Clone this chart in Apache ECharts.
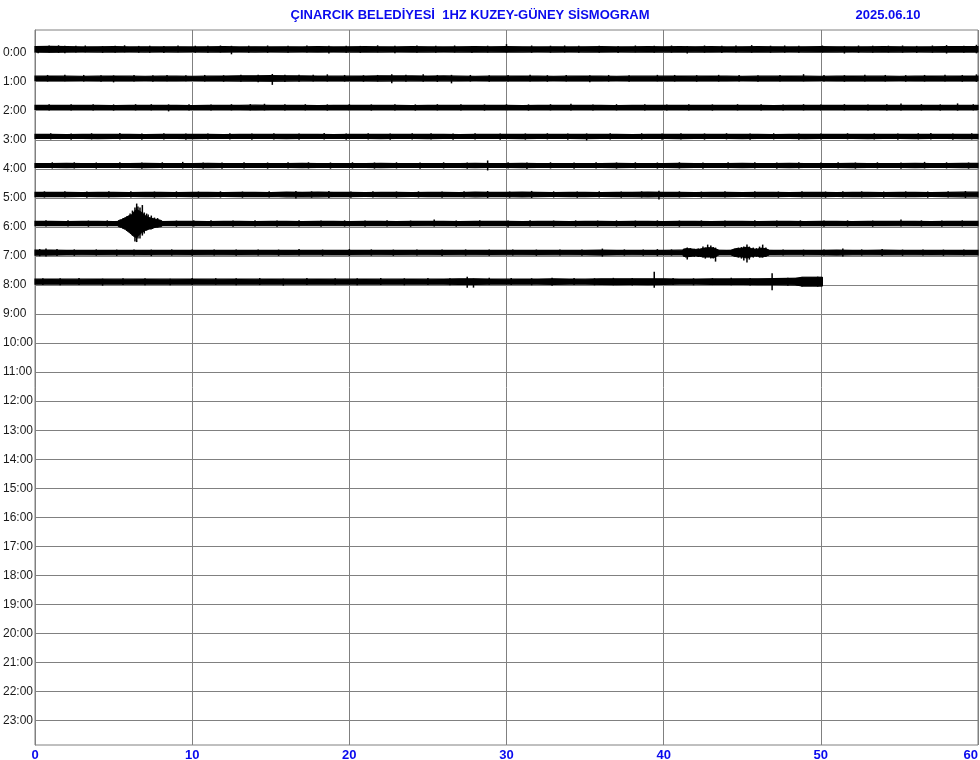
<!DOCTYPE html>
<html>
<head>
<meta charset="utf-8">
<script src="https://cdn.jsdelivr.net/npm/echarts@6/dist/echarts.min.js"></script>
<style>html,body{margin:0;padding:0;background:#fff;}#c{width:980px;height:760px;}</style>
</head>
<body>
<div id="c"></div>
<script>
// ---------- DATA ----------
const titleText = 'ÇINARCIK BELEDİYESİ  1HZ KUZEY-GÜNEY SİSMOGRAM';
const dateText = '2025.06.10';
const hourLabels = ['0:00','1:00','2:00','3:00','4:00','5:00','6:00','7:00','8:00','9:00','10:00','11:00',
  '12:00','13:00','14:00','15:00','16:00','17:00','18:00','19:00','20:00','21:00','22:00','23:00'];
const minuteTicks = [0, 10, 20, 30, 40, 50, 60];

// background noise half-width per minute (amplitude units)
const noise0 = [2.6,2.9,2.6,2.4,2.5,2.6,2.4,2.5,2.4,2.5,2.4,2.5,2.6,2.4,2.5,2.4,2.5,2.4,2.6,2.4,
  2.5,2.6,2.5,2.4,2.6,2.5,2.4,2.5,2.6,2.5,2.6,2.5,2.4,2.5,2.4,2.5,2.6,2.4,2.5,2.6,
  2.5,2.6,2.5,2.6,2.4,2.5,2.6,2.5,2.4,2.5,2.6,2.5,2.4,2.5,2.6,2.5,2.4,2.5,2.6,2.6];
const noise1 = [2.2,2.3,2.2,2.1,2.2,2.3,2.2,2.1,2.2,2.2,2.1,2.2,2.3,2.5,2.6,2.7,2.5,2.4,2.3,2.2,
  2.2,2.3,2.5,2.4,2.4,2.3,2.4,2.2,2.1,2.2,2.2,2.3,2.2,2.1,2.2,2.3,2.2,2.1,2.2,2.2,
  2.2,2.3,2.2,2.3,2.2,2.1,2.2,2.2,2.3,2.2,2.1,2.2,2.3,2.2,2.2,2.1,2.2,2.3,2.2,2.3];
const noise2 = [2.0,2.1,2.0,2.1,2.0,1.9,2.0,2.1,2.0,2.0,1.9,2.0,2.1,2.0,2.2,2.1,2.0,2.0,1.9,2.0,
  2.0,2.1,2.0,2.0,1.9,2.0,2.1,2.0,2.0,2.1,2.0,1.9,2.0,2.0,2.1,2.0,2.0,1.9,2.0,2.1,
  2.0,2.0,2.1,2.0,2.0,2.1,2.0,1.9,2.0,2.0,2.1,2.0,2.0,2.1,2.0,2.1,2.0,2.0,2.1,2.0];
const noise3 = [2.0,2.0,1.9,2.0,2.1,2.0,2.0,1.9,2.0,2.0,2.1,2.0,1.9,2.0,2.0,2.0,2.1,2.0,2.0,1.9,
  2.0,2.0,2.1,2.0,2.0,2.1,2.0,1.9,2.0,2.0,2.0,2.1,2.0,2.0,2.0,2.1,2.0,2.0,1.9,2.0,
  2.0,2.1,2.0,2.0,2.0,2.1,2.0,1.9,2.0,2.1,2.0,2.0,2.0,2.1,2.0,2.0,2.1,2.0,2.0,2.1];
const noise4 = [2.0,2.0,2.1,2.0,1.9,2.0,2.0,2.1,2.0,2.0,2.0,2.1,2.0,1.9,2.0,2.0,2.0,2.1,2.0,2.0,
  2.0,2.0,2.1,2.0,2.0,1.9,2.0,2.0,2.2,2.0,2.0,2.1,2.0,2.0,1.9,2.0,2.0,2.1,2.0,2.0,
  2.0,2.1,2.0,2.0,2.0,2.1,2.0,2.0,2.1,2.0,2.0,2.0,2.1,2.0,2.0,2.0,2.1,2.0,2.0,2.1];
const noise5 = [2.1,2.2,2.1,2.0,2.1,2.1,2.0,2.1,2.1,2.0,2.1,2.1,2.0,2.1,2.1,2.0,2.3,2.1,2.3,2.1,
  2.1,2.0,2.1,2.1,2.0,2.1,2.1,2.0,2.3,2.1,2.1,2.4,2.1,2.0,2.1,2.1,2.0,2.1,2.1,2.4,
  2.2,2.1,2.0,2.1,2.1,2.0,2.1,2.1,2.0,2.1,2.1,2.0,2.1,2.1,2.0,2.1,2.1,2.0,2.2,2.3];
const noise6 = [2.1,2.1,2.0,2.1,2.1,2.0,2.1,2.1,2.0,2.1,2.1,2.0,2.1,2.1,2.0,2.1,2.1,2.0,2.1,2.1,
  2.0,2.1,2.1,2.0,2.1,2.2,2.1,2.0,2.1,2.1,2.1,2.0,2.1,2.1,2.0,2.1,2.1,2.0,2.1,2.1,
  2.0,2.1,2.1,2.0,2.1,2.1,2.0,2.1,2.1,2.0,2.1,2.1,2.0,2.1,2.1,2.2,2.1,2.0,2.1,2.1];
const noise7 = [2.6,2.5,2.3,2.2,2.3,2.2,2.2,2.3,2.2,2.2,2.3,2.2,2.2,2.3,2.2,2.2,2.3,2.2,2.2,2.3,
  2.3,2.2,2.2,2.3,2.2,2.2,2.3,2.2,2.2,2.3,2.2,2.2,2.3,2.2,2.2,2.3,2.5,2.3,2.2,2.3,
  2.3,2.4,2.4,2.4,2.3,2.4,2.4,2.3,2.2,2.2,2.3,2.5,2.2,2.2,2.4,2.2,2.2,2.3,2.2,2.3];
const noise8 = [2.5,2.6,2.5,2.5,2.6,2.5,2.5,2.6,2.5,2.5,2.6,2.5,2.5,2.6,2.5,2.6,2.5,2.5,2.6,2.5,
  2.5,2.6,2.5,2.5,2.6,2.5,2.6,2.8,2.8,2.6,2.5,2.6,2.6,2.8,2.6,2.5,2.8,2.9,2.8,2.9,
  2.8,2.6,2.6,2.7,2.7,2.8,2.9,3.0,3.2,3.6,3.8];
const rowEnd = [60, 60, 60, 60, 60, 60, 60, 60, 50.1];

// thin spikes: [minute, up, down]
const spikes0 = [[0.2,3,4],[0.9,3.8,3.2],[1.5,4,3.5],[1.9,3.5,4],[2.6,3.6,3.2],[3.2,3.8,3],[4.3,3.2,3.6],[5.1,3.5,3.5],[5.7,4,3],
  [6.6,3.4,3.4],[7.3,3.6,3.5],[8.2,3.4,3.6],[9.1,3.8,3],[10.2,3.6,3.4],[11,3.5,3.5],[11.8,3.8,3.2],[12.5,3.5,5],[13.6,3.6,3.4],
  [14.8,3.8,3.5],[16.1,3.5,3.5],[17.3,3.8,3.2],[18.7,3.5,4.2],[19.8,3.6,3.4],[20.7,3.4,3.6],[21.8,4,3],[22.9,3.5,4],
  [24.3,3.8,3.5],[25.5,3.5,3.4],[26.7,3.8,3.2],[27.8,3.4,3.6],[28.8,3.6,3.2],[30,5.2,3.5],[31.6,3.8,3.5],[32.8,3.6,3.4],
  [33.7,3.8,3.2],[34.6,3.5,3.5],[35.9,3.6,3.4],[37.1,3.4,3.6],[38.2,3.8,3],[39.4,3.5,3.5],[40.5,3.8,3.4],[41.5,3.2,4.2],
  [42.6,3.8,3.4],[43.7,3.6,3.6],[44.6,3.8,3.2],[45.6,4.2,3.5],[46.8,3.6,3.4],[47.7,3.8,3.4],[48.6,3.5,3.5],[50.1,3.8,3.2],
  [51.5,3.4,4.2],[52.4,3.8,3.4],[53.3,3.6,3.4],[54.3,3.6,3.2],[55.2,3.8,3.4],[56.1,3.4,3.6],[57.1,3.8,3.4],[58,4.2,4.2],[59.1,3.6,3.4],[59.9,4.5,4]];
const spikes1 = [[0.8,3.4,3.2],[1.9,3.5,3],[3.1,3.4,3.2],[4.2,3.2,3.4],[5.0,3,4],[6.3,3.4,3.2],[7.5,3.2,3.4],[8.4,3.4,3],
  [9.6,3.2,3],[10.8,3.4,3.2],[12.0,3.2,3.4],[13.1,3.5,3.5],[14.2,3.5,4],[15.1,4.4,6.5],[15.9,3.6,3.6],[16.8,3.5,3.5],
  [17.7,3.6,3.2],[18.6,4,3.2],[19.7,3.4,3.2],[20.9,3.2,3.4],[21.8,3.4,3.2],[22.7,4,5],[23.6,3.6,3.4],[24.7,4,3.5],
  [25.6,3.4,3.6],[26.5,3.5,5],[27.7,3.4,3.2],[28.9,3.2,3.4],[30.1,3.4,3.2],[31.5,3.5,3.2],[32.6,3.2,3.4],[33.8,3.4,3.2],
  [35.3,3,4],[36.5,3.4,3.2],[37.8,3.2,3.4],[39.6,3.5,3],[40.7,3.4,3.2],[42.1,3.2,3.4],[43.5,3.5,3.2],[44.8,3.4,3.2],
  [46.0,3.2,3.4],[47.4,3.4,3.2],[48.9,4.2,3],[50.2,3.4,3.2],[51.5,3.2,3.4],[52.8,3.5,3.2],[54.1,3.4,3.2],[55.4,3.2,3.4],
  [56.6,3.4,3.2],[57.9,3.5,3.2],[59.0,3.4,3.4],[59.9,4,3.5]];
const spikes2 = [[0.9,3.2,3],[2.3,3.2,3],[3.7,3.2,3],[5.0,3,3.2],[6.4,3.2,3],[7.4,3.2,3],[8.5,3,4],[9.8,3.2,3],[11.2,3,3.2],
  [12.5,3.2,3],[13.7,3.3,3],[14.6,3.6,3],[15.9,3.2,3],[17.2,3.2,3],[18.6,3,3.2],[20.0,3.2,3],[21.4,3,3.2],[22.9,3.2,3],
  [24.2,3,3.2],[25.6,3.2,3],[27.1,3.2,3],[28.6,3,3.2],[30.0,3.2,3],[31.4,3,3.2],[32.8,3.2,3],[34.1,3.6,3],[35.5,3,3.2],
  [37.0,3.2,3],[38.8,3.2,3],[40.2,3,3.2],[41.6,3.2,3],[43.1,3,3.2],[44.7,3.2,3],[46.2,3.2,3],[47.6,3,3.2],[48.9,3.2,3],
  [50,3,3.2],[51.5,3.2,3],[53.0,3,3.2],[54.2,3.2,3],[55.1,4,3],[56.4,3.2,3],[57.6,3,3.2],[58.7,4,3.2],[59.7,3.2,3]];
const spikes3 = [[1.0,3.2,3],[2.3,3,3.2],[3.6,3.2,3],[5.4,3.5,3],[6.8,3,3.2],[8.2,3.2,3],[9.6,3,3.2],[11,3,3],[12.4,3.2,3],
  [13.8,3,3.2],[15.2,3.2,3],[16.8,3,3.2],[18.4,3.5,3],[19.8,3,3.2],[21.2,3.2,3],[22.6,3,3.2],[24.0,3.2,3],[25.2,3.2,3],
  [26.6,3,3.2],[28.0,3.2,3],[29.6,3,3.2],[31.2,3,3.2],[32.6,3.2,3],[33.9,3,3.2],[35.1,3,4],[36.6,3.2,3],[38.6,3.2,3],
  [39.9,3,3.2],[41.1,3.2,3],[42.6,3,3.2],[44.0,3.2,3],[45.5,3,3.2],[47.0,3.2,3],[48.6,3,3.2],[50,3,3],[51.7,3.2,3],
  [53.4,3.2,3],[54.9,3,3.2],[56.2,3.2,3],[57,3.5,3],[58.4,3,3.2],[59.6,3.2,3]];
const spikes4 = [[1.1,3.2,3],[2.5,3.2,3],[3.9,3,3.2],[5.4,3.2,3],[6.8,3,3.2],[8.1,3.2,3],[9.4,3.6,3],[10.7,3,3.2],[11.9,3,3.2],
  [13.3,3.2,3],[14.8,3,3.2],[16.1,3.2,3],[17.4,3.2,3],[18.8,3,3.2],[20.2,3.2,3],[21.6,3,3.2],[23.0,3.2,3],[24.5,3,3.2],
  [26.0,3.2,3],[27.5,3,3.2],[28.8,5,5],[30.1,3.2,3],[31.3,3,3.6],[32.8,3.2,3],[34.3,3,3.2],[35.7,3.2,3],[37.0,3,3.2],
  [38.2,3.2,3],[39.6,3,3.2],[41.0,3.2,3],[42.5,3,3.2],[44.1,3.2,3],[45.8,3.2,3],[47.2,3,3.2],[48.6,3.2,3],[50.0,3,3.2],
  [51.1,3.2,3],[52.2,3,3.2],[53.6,3.2,3],[55.1,3,3.2],[56.6,3.6,3],[58.0,3.2,3],[59.4,3,3.2]];
const spikes5 = [[0.6,3.2,3],[1.9,3.2,3],[3.3,3,3.2],[4.7,3.2,3],[6.1,3.2,3],[7.6,3,3.2],[9.0,3.2,3],[10.4,3,3.2],[11.8,3.2,3],
  [13.2,3,3.2],[14.9,3.2,3],[16.6,3.6,4],[17.6,3.2,3.2],[18.7,3.5,3.5],[20.1,3,3.2],[21.5,3.2,3],[23.0,3,3.2],[24.4,3.2,3],
  [25.9,3,3.2],[27.3,3.2,3],[28.8,3.5,3.5],[30.2,3,3.2],[31.6,3.6,3.5],[33.0,3.2,3],[34.5,3,3.2],[35.9,3.2,3],[37.3,3,3.2],
  [38.6,3.2,3],[39.7,3.8,5],[41.0,3.2,3],[42.4,3,3.2],[43.9,3.2,3],[45.8,3.2,3],[47.3,3,3.2],[48.8,3.2,3],[50.3,3,3.2],
  [51.4,3.2,3],[52.6,3.2,3],[54.0,3,3.2],[55.4,3.2,3],[56.8,3,3.2],[58.1,3.2,3],[59.2,3.5,3.5]];
const spikes6 = [[0.7,3.2,3],[2.1,3.2,3],[3.4,3,3.2],[4.6,3.2,3],[9.0,3,3.2],[10.1,3.2,3],[11.2,3.2,3],[12.6,3,3.2],[14.0,3.2,3],
  [15.4,3,3.2],[16.8,3.2,3],[18.2,3,3.2],[19.7,3.2,3],[21.0,3,3.2],[22.4,3.2,3],[23.9,3,3.2],[25.4,4,3],[26.8,3,3.2],
  [28.3,3.2,3],[30.1,3,4],[31.5,3.2,3],[33.0,3,3.2],[34.4,3.2,3],[35.8,3,3.2],[37.0,3.2,3],[38.2,3,3.5],[39.6,3.2,3],
  [41.0,3,3.2],[42.4,3.2,3],[43.9,3,3.2],[45.8,3.2,3],[47.2,3,3.2],[48.7,3.2,3],[50.2,3,3.2],[51.7,3.2,3],[53.3,3,3.2],
  [55.1,4,3],[56.4,3.2,3],[57.7,3,3.2],[59.0,3.2,3],
  [5.6,5,5],[5.85,7,7],[6.05,10,9],[6.2,13,12],[6.36,16,18],[6.47,20,18.5],[6.55,17,15],[6.68,16,15],[6.83,18.5,12],[6.95,11,10],
  [7.1,10,7],[7.2,9,6],[7.4,8,5],[7.6,6,4.5],[7.8,5.5,4]];
const spikes7 = [[0.3,3.6,3.6],[0.7,4,4],[1.4,3.6,3.4],[2.5,3.2,3.2],[3.9,3.2,3],[5.2,3,3.2],[6.3,3.2,3],[7.4,3,3.5],
  [8.7,3.2,3],[10.0,3,3.2],[11.4,3.2,3],[12.8,3,3.2],[14.2,3.2,3],[15.5,3,3.2],[16.8,3.5,3],[18.3,3,3.2],[20,3.5,3.5],
  [21.4,3.2,3],[22.8,3,3.2],[24.3,3.2,3],[25.9,3,3.5],[27.4,3.2,3],[28.9,3,3.2],[30.4,3.2,3],[31.9,3,3.2],[33.4,3.2,3],
  [34.8,3,3.2],[36.1,4,4],[37.5,3.2,3],[38.7,3,3.2],[39.6,3.5,3.5],[40.5,3.2,3],
  [41.3,4,4.5],[41.5,5,7],[41.7,4.5,4],[41.95,3.8,4.2],[42.2,4.2,4.5],[42.5,6,5],[42.65,5,6],[42.8,8,4],[43.0,7,6],[43.15,5.5,6],[43.3,5,9],
  [44.5,4,4],[44.75,5,5],[44.95,5.5,6],[45.1,6,8],[45.3,8,10],[45.45,6,7],[45.7,5,5],[45.9,4.5,4.2],[46.1,6,5],[46.3,8,5],[46.5,5,4.5],
  [47.6,3.2,3],[48.9,3,3.2],[50.2,3.2,3],[51.4,4,4],[52.6,3.2,3],[53.9,3.5,3.5],[55.2,3,3.2],[56.5,3.2,3],[57.8,3,3.2],[59.1,3.2,3]];
const spikes8 = [[0.5,3.5,3.4],[1.6,3.4,3.6],[2.8,3.6,3.4],[4.3,3,4],[5.6,3.5,3.4],[7.0,3.4,3.6],[8.6,3,3.5],[10.0,3.6,3.4],
  [11.5,3.5,3],[12.8,3.4,3.6],[14.3,3.6,3.4],[15.8,3,4],[17.3,3.6,3.4],[19.1,3.5,3],[20.5,3.4,3.6],[22.0,3.6,3.4],
  [23.5,3.4,3.6],[25.0,3.6,3.4],[26.4,3.4,3.6],[27.5,5,6],[27.9,3,6],[28.9,4,3],[30.3,3.6,3.4],[31.6,3.4,3.6],
  [32.9,4,4],[34.3,3.6,3.4],[35.6,3.4,3.6],[36.8,3.8,3.6],[38.0,3.6,3.8],[39.4,10,6],[40.6,3.6,3.4],[41.9,3.4,3.6],
  [43.1,3.6,3.4],[44.3,3.8,3.6],[45.5,3.6,3.8],[46.9,8.4,8.5],[47.9,3.8,4],[48.8,4.4,4.8],[49.8,5,5]];

// event envelopes: [minute, up, down]
const burst6a = [[5.3,3,3],[5.5,4,4],[5.75,6,6],[6.0,8,9],[6.15,8.7,11],[6.3,12,13],[6.45,14,14],[6.6,13,12],
  [6.8,11,9],[7.0,8,7],[7.25,6,5.5],[7.4,5.5,5.5],[7.6,4.5,4],[7.8,4,3.5],[8.06,3,3]];
const burst7a = [[41.2,2.5,2.5],[41.4,4,4.5],[41.7,3.8,3.8],[42.0,3.2,3.2],[42.3,3.5,3.8],[42.6,4.5,4.5],[42.9,5,4.5],[43.2,4.5,5],[43.5,2.5,2.5]];
const burst7b = [[44.3,2.5,2.5],[44.6,4,4],[45.0,4.5,4.5],[45.3,5.5,5.5],[45.6,4,4],[45.9,3.2,3.2],[46.2,4.5,4.5],[46.5,4,3.5],[46.7,2.5,2.5]];
const burst8a = [[48.4,3.2,3.2],[48.8,4.5,4.5],[49.5,4.5,4.5],[50.1,4.5,4.5]];

const noiseRows = [noise0, noise1, noise2, noise3, noise4, noise5, noise6, noise7, noise8];
const spikeRows = [spikes0, spikes1, spikes2, spikes3, spikes4, spikes5, spikes6, spikes7, spikes8];
const burstRows = [[], [], [], [], [], [], [burst6a], [burst7a, burst7b], [burst8a]];

// ---------- CHART ----------
const ROW_PX = 29.04;           // one row on screen
const GAIN = 1 / ROW_PX;        // amplitude unit -> row units
const TRACE_OFFSET = 0.115;     // trace baseline sits slightly above grid line

const chart = echarts.init(document.getElementById('c'), null, {renderer: 'canvas'});

function renderTrace(params, api) {
  const row = api.value(0);
  const noise = noiseRows[row];
  const end = rowEnd[row];
  const base = row - TRACE_OFFSET;
  const up = [], dn = [];
  for (let i = 0; i < noise.length; i++) {
    const x = Math.min(i, end);
    up.push(api.coord([x, base - noise[i] * GAIN]));
    dn.push(api.coord([x, base + noise[i] * GAIN]));
  }
  const last = noise[noise.length - 1];
  up.push(api.coord([end, base - last * GAIN]));
  dn.push(api.coord([end, base + last * GAIN]));
  const children = [{
    type: 'polygon', shape: {points: up.concat(dn.reverse())},
    style: {fill: '#000', stroke: '#000', lineWidth: 1.2}
  }];
  burstRows[row].forEach(b => {
    const u = b.map(p => api.coord([p[0], base - p[1] * GAIN]));
    const d = b.map(p => api.coord([p[0], base + p[2] * GAIN])).reverse();
    children.push({type: 'polygon', shape: {points: u.concat(d)}, style: {fill: '#000', stroke: '#000', lineWidth: 1}});
  });
  spikeRows[row].forEach(s => {
    const a = api.coord([s[0], base - s[1] * GAIN]);
    const b = api.coord([s[0], base + s[2] * GAIN]);
    children.push({type: 'line', shape: {x1: a[0], y1: a[1], x2: b[0], y2: b[1]}, style: {stroke: '#000', lineWidth: 1.5}});
  });
  return {type: 'group', children};
}

const option = {
  animation: false,
  backgroundColor: '#fff',
  grid: {left: 35, right: 2, top: 30, bottom: 15, containLabel: false, outerBoundsMode: 'none',
    show: true, borderColor: '#808080', borderWidth: 1},
  graphic: [
    {type: 'text', x: 470, y: 15, style: {text: titleText, fill: '#0a0aee', font: 'bold 13px "Liberation Sans"', textAlign: 'center', textVerticalAlign: 'middle'}},
    {type: 'text', x: 888, y: 15, style: {text: dateText, fill: '#0a0aee', font: 'bold 13px "Liberation Sans"', textAlign: 'center', textVerticalAlign: 'middle'}}
  ],
  xAxis: {
    type: 'value', min: minuteTicks[0], max: minuteTicks[minuteTicks.length - 1], interval: 10,
    axisLine: {show: true, lineStyle: {color: '#808080', width: 1}},
    axisTick: {show: false},
    splitLine: {show: true, lineStyle: {color: '#808080', width: 1}},
    axisLabel: {color: '#0a0aee', fontWeight: 'bold', fontSize: 13, fontFamily: 'Liberation Sans', margin: 4,
      showMinLabel: true, showMaxLabel: true, alignMaxLabel: 'right'}
  },
  yAxis: {
    type: 'value', inverse: true, min: -0.78, max: 23.84,
    axisLine: {show: true, lineStyle: {color: '#808080', width: 1}},
    axisTick: {show: false},
    splitLine: {show: false},
    axisLabel: {
      customValues: hourLabels.map((_, i) => i),
      formatter: v => hourLabels[Math.round(v)] || '',
      color: '#1a1a1a', fontSize: 12, fontFamily: 'Liberation Sans', margin: 32, align: 'left'
    }
  },
  series: [
    {
      type: 'line', data: [], z: 1, silent: true,
      markLine: {
        silent: true, symbol: 'none', animation: false,
        label: {show: false},
        lineStyle: {color: '#808080', width: 1, type: 'solid'},
        emphasis: {disabled: true},
        data: hourLabels.map((_, i) => ({yAxis: i}))
      }
    },
    {
      type: 'custom', z: 5, silent: true,
      renderItem: renderTrace,
      data: noiseRows.map((_, i) => [i]),
      encode: {x: -1, y: 0}
    }
  ]
};
chart.setOption(option);
</script>
</body>
</html>
